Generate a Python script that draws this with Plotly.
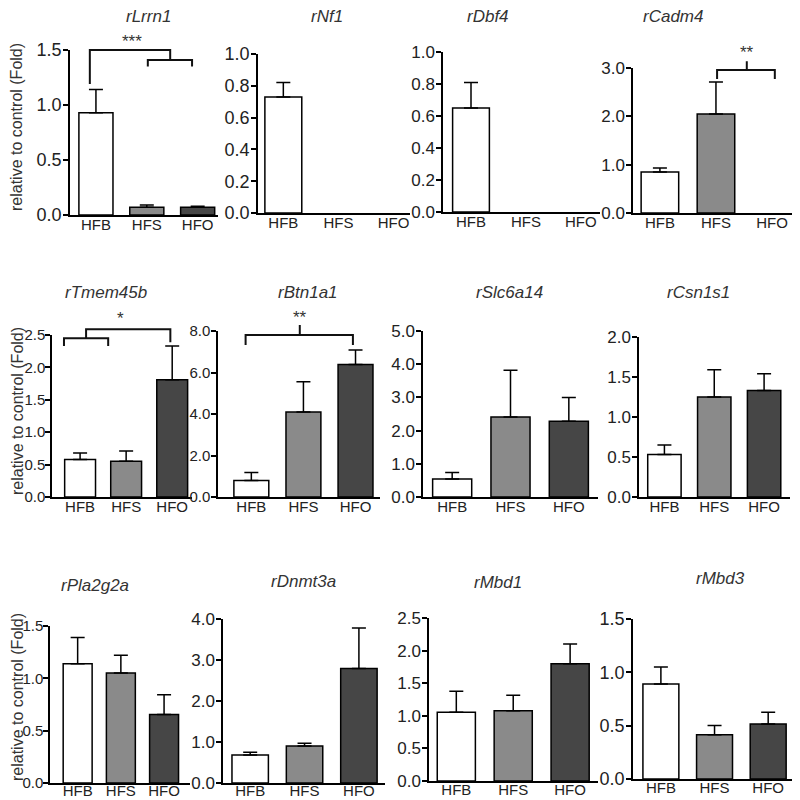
import plotly.graph_objects as go

# ---------------- data ----------------
groups = ["HFB", "HFS", "HFO"]
genes = ["rLrrn1", "rNf1", "rDbf4", "rCadm4",
         "rTmem45b", "rBtn1a1", "rSlc6a14", "rCsn1s1",
         "rPla2g2a", "rDnmt3a", "rMbd1", "rMbd3"]

mean_HFB = [0.93, 0.73, 0.65, 0.85, 0.58, 0.80, 0.54, 0.53, 1.14, 0.68, 1.055, 0.89]
mean_HFS = [0.07, None, None, 2.05, 0.55, 4.10, 2.41, 1.25, 1.05, 0.90, 1.076, 0.416]
mean_HFO = [0.07, None, None, None, 1.81, 6.39, 2.28, 1.33, 0.654, 2.79, 1.80, 0.516]

sem_HFB = [0.21, 0.09, 0.16, 0.08, 0.10, 0.38, 0.20, 0.12, 0.25, 0.07, 0.32, 0.16]
sem_HFS = [0.02, 0, 0, 0.66, 0.16, 1.45, 1.41, 0.34, 0.17, 0.07, 0.24, 0.085]
sem_HFO = [0.01, 0, 0, 0, 0.52, 0.69, 0.72, 0.21, 0.19, 0.99, 0.30, 0.11]

y_max = [1.5, 1.0, 1.0, 3.0, 2.5, 8.0, 5.0, 2.0, 1.5, 4.0, 2.5, 1.5]
y_dtick = [0.5, 0.2, 0.2, 1.0, 0.5, 2.0, 1.0, 0.5, 0.5, 1.0, 0.5, 0.5]

bar_colors = ["#ffffff", "#8a8a8a", "#464646"]
y_title = "relative to control (Fold)"

# significance brackets: (panel index, label, label position, polylines in (category index, value))
brackets = [
    (0, "***", (0.71, 1.58), [[(-0.12, 1.19), (-0.12, 1.5), (1.46, 1.5), (1.46, 1.41)],
                              [(1.02, 1.35), (1.02, 1.41), (1.89, 1.41), (1.89, 1.35)]]),
    (3, "**", (1.55, 3.33), [[(1.02, 2.77), (1.02, 2.96), (2.05, 2.96), (2.05, 2.77)],
                             [(1.55, 2.96), (1.55, 3.14)]]),
    (4, "*", (0.87, 2.76), [[(-0.35, 2.33), (-0.35, 2.45), (0.61, 2.45), (0.61, 2.33)],
                            [(0.13, 2.45), (0.13, 2.59), (1.96, 2.59), (1.96, 2.39)]]),
    (5, "**", (0.93, 8.65), [[(-0.11, 7.33), (-0.11, 7.81), (1.95, 7.81), (1.95, 7.33)],
                             [(0.93, 7.81), (0.93, 8.29)]]),
]

# ---------------- layout geometry (pixels in the 800x800 page) ----------------
# left x, right x, bottom y, top y, category range
geom = [
    (70, 218, 215, 50, (-0.51, 2.40)),
    (258, 410, 213, 54, (-0.46, 2.30)),
    (443, 600, 212, 52, (-0.51, 2.35)),
    (633, 795, 213, 68, (-0.48, 2.41)),
    (52, 192, 497, 335, (-0.61, 2.43)),
    (218, 380, 497, 331, (-0.64, 2.47)),
    (423, 598, 497, 331, (-0.50, 2.50)),
    (639, 790, 497, 337, (-0.51, 2.52)),
    (50, 190, 783, 626, (-0.64, 2.60)),
    (223, 385, 783, 619, (-0.50, 2.48)),
    (429, 598, 781, 618, (-0.48, 2.49)),
    (633, 795, 779, 619, (-0.52, 2.50)),
]
tick_sizes = [18, 18, 17, 17, 15, 15, 17, 17, 15, 17, 17, 18]
ylab_standoff = [-2, -2, -2, -2, -3, -2, -2, -2, -3, -2, -2, -2]
xlab_standoff = [-5, -5, -5, -5, -5, -5, -5, -5, -7, -7, -6, -6]
title_pos = [(148, 17), (327, 17), (488, 17), (673, 17),
             (106, 293), (308, 293), (510, 293), (698, 293),
             (95, 585), (303, 581), (498, 582), (720, 578)]
ytitle_pos = [(17, 127), (17, 411), (17, 697)]

W = H = 800
OFF = 8  # the page body margin shifts the figure by this many pixels
FONT = "Arial, Liberation Sans, sans-serif"
TXT = "#222222"


def pxx(p):
    return (p - OFF) / W


def pxy(p):
    return 1 - (p - OFF) / H


fig = go.Figure()
layout = dict(width=W, height=H, margin=dict(l=0, r=0, t=0, b=0, pad=0),
              plot_bgcolor="white", paper_bgcolor="white", showlegend=False,
              font=dict(family=FONT, color=TXT))
annotations = []
shapes = []


def to_paper(i, idx, val):
    xl, xr, yb, yt, (r0, r1) = geom[i]
    px = xl + (idx - r0) / (r1 - r0) * (xr - xl)
    py = yb - val / y_max[i] * (yb - yt)
    return pxx(px), pxy(py)


for i, g in enumerate(genes):
    xl, xr, yb, yt, (r0, r1) = geom[i]
    sfx = "" if i == 0 else str(i + 1)
    ys = [mean_HFB[i], mean_HFS[i], mean_HFO[i]]
    es = [sem_HFB[i], sem_HFS[i], sem_HFO[i]]
    fig.add_trace(go.Bar(
        x=groups, y=ys, xaxis="x" + sfx, yaxis="y" + sfx, width=0.67,
        marker=dict(color=bar_colors, line=dict(color="black", width=1.5)),
        error_y=dict(type="data", symmetric=False, array=es,
                     arrayminus=[0, 0, 0], color="black", thickness=1.5, width=7),
        hoverinfo="skip"))
    layout["xaxis" + sfx] = dict(
        domain=[pxx(xl), pxx(xr)], anchor="y" + sfx, type="category",
        categoryorder="array", categoryarray=groups, range=[r0, r1],
        showline=True, linecolor="black", linewidth=1.5, ticks="",
        showgrid=False, zeroline=False, fixedrange=True, automargin=False,
        ticklabelstandoff=xlab_standoff[i],
        tickfont=dict(size=15, color=TXT, family=FONT))
    layout["yaxis" + sfx] = dict(
        domain=[pxy(yb), pxy(yt)], anchor="x" + sfx, range=[0, y_max[i]],
        tick0=0, dtick=y_dtick[i], tickformat=".1f",
        showline=True, linecolor="black", linewidth=1.5, ticks="outside",
        ticklen=5, tickwidth=1.5, tickcolor="black", showgrid=False,
        zeroline=False, fixedrange=True, automargin=False,
        ticklabelstandoff=ylab_standoff[i],
        tickfont=dict(size=tick_sizes[i], color=TXT, family=FONT))
    tx, ty = title_pos[i]
    annotations.append(dict(text="<i>%s</i>" % g, x=pxx(tx), y=pxy(ty),
                            xref="paper", yref="paper", showarrow=False,
                            xanchor="center", yanchor="middle",
                            font=dict(size=17, color="#333333", family=FONT)))

for (x, y) in ytitle_pos:
    annotations.append(dict(text=y_title, x=pxx(x), y=pxy(y), xref="paper",
                            yref="paper", showarrow=False, textangle=-90,
                            xanchor="center", yanchor="middle",
                            font=dict(size=16, color="#333333", family=FONT)))

for (i, label, (lx, ly), lines) in brackets:
    for pl in lines:
        pts = [to_paper(i, a, b) for a, b in pl]
        path = "M " + " L ".join("%f,%f" % p for p in pts)
        shapes.append(dict(type="path", path=path, xref="paper", yref="paper",
                           line=dict(color="#111111", width=2)))
    px, py = to_paper(i, lx, ly)
    annotations.append(dict(text=label, x=px, y=py, xref="paper", yref="paper",
                            showarrow=False, xanchor="center", yanchor="middle",
                            font=dict(size=17, color="#333333", family=FONT)))

layout["annotations"] = annotations
layout["shapes"] = shapes
fig.update_layout(**layout)
fig.write_html("out.html")
